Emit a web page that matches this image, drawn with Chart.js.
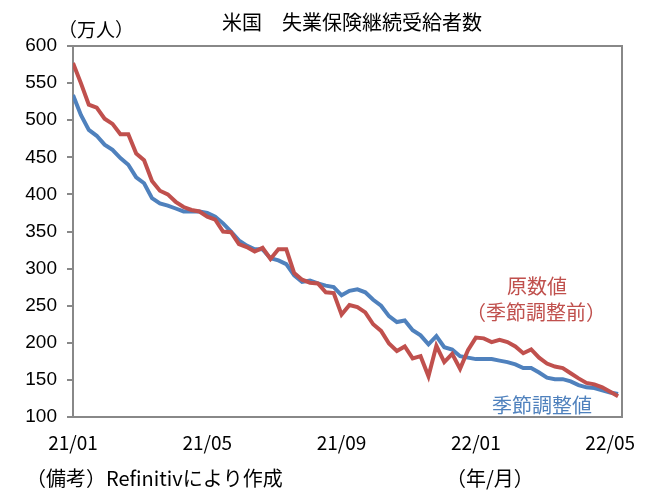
<!DOCTYPE html>
<html>
<head>
  <meta charset="utf-8">
  <script src="https://cdnjs.cloudflare.com/ajax/libs/Chart.js/4.4.1/chart.umd.min.js"></script>
  <style>
    html, body { margin: 0; padding: 0; background: #fff; }
    #wrap { width: 654px; height: 501px; }
  </style>
</head>
<body>
<div id="wrap"><canvas id="claimsChart" width="654" height="501"></canvas></div>

<script>
// weekly continuing claims, 10k persons, from 2021/01 to 2022/05
var rawValues = [577, 550, 521, 517, 502, 495, 481, 481, 455, 446,
                 418, 405, 400, 390, 383, 379, 377, 370, 366, 350,
                 349, 333, 329, 323, 328, 313, 326, 326, 294, 285,
                 281, 280, 268, 267, 238, 251, 248, 241, 225, 216,
                 199, 189, 195, 179, 182, 155, 196, 174, 185, 165,
                 190, 207, 206, 201, 204, 201, 195, 186, 191, 180,
                 172, 168, 166, 159, 152, 146, 144, 140, 134, 128];
var adjValues = [534, 507, 487, 479, 467, 460, 449, 440, 423, 415,
                 395, 388, 385, 381, 377, 377, 377, 375, 370, 361,
                 350, 338, 331, 326, 326, 314, 311, 306, 291, 282,
                 284, 280, 277, 275, 264, 270, 272, 268, 258, 250,
                 236, 228, 230, 217, 210, 198, 209, 194, 191, 182,
                 180, 178, 178, 178, 176, 174, 171, 166, 166, 160,
                 153, 151, 151, 148, 143, 140, 139, 136, 133, 131];
var xTickLabels = ["21/01", "21/05", "21/09", "22/01", "22/05"];
var xTickWeeks = [0, 17, 34, 51, 68];
var yTicks = [100, 150, 200, 250, 300, 350, 400, 450, 500, 550, 600];

var RED = "#C0504D";
var BLUE = "#4F81BD";
var AXIS = "#888888";
var JP = "'Noto Sans CJK JP', 'Noto Sans', sans-serif";

function toPoints(arr) {
  return arr.map(function(v, i) { return { x: i, y: v }; });
}

// frame + text that Chart.js has no slot for
var extras = {
  id: "extras",
  beforeDatasetsDraw: function(chart) {
    var a = chart.chartArea, c = chart.ctx;
    c.save();
    c.strokeStyle = AXIS;
    c.lineWidth = 2;
    c.strokeRect(a.left, a.top, a.right - a.left, a.bottom - a.top);
    c.restore();
  },
  afterDraw: function(chart) {
    var c = chart.ctx;
    c.save();
    c.textBaseline = "middle";
    c.textAlign = "center";
    c.fillStyle = "#000";
    c.font = "20px " + JP;
    c.fillText("米国　失業保険継続受給者数", 352, 22);
    c.textAlign = "left";
    c.font = "19px " + JP;
    c.fillText("（万人）", 58, 30);
    c.font = "20px " + JP;
    c.fillText("（備考）Refinitivにより作成", 26, 478);
    c.fillText("（年/月）", 446, 478);
    c.textAlign = "center";
    c.fillStyle = RED;
    c.font = "20px " + JP;
    c.fillText("原数値", 537, 286);
    c.fillText("（季節調整前）", 536, 312);
    c.fillStyle = BLUE;
    c.fillText("季節調整値", 542, 405);
    c.restore();
  }
};

var ctx = document.getElementById("claimsChart").getContext("2d");
var claimsChart = new Chart(ctx, {
  type: "line",
  data: {
    datasets: [{
      label: "原数値",
      data: toPoints(rawValues),
      borderColor: RED,
      borderWidth: 4,
      pointRadius: 0,
      tension: 0,
      order: 0
    }, {
      label: "季節調整値",
      data: toPoints(adjValues),
      borderColor: BLUE,
      borderWidth: 4,
      pointRadius: 0,
      tension: 0,
      order: 1
    }]
  },
  options: {
    responsive: false,
    animation: false,
    layout: { padding: { top: 46, right: 32, left: 0, bottom: 0 } },
    plugins: {
      legend: { display: false },
      tooltip: { enabled: false },
      title: { display: false }
    },
    scales: {
      x: {
        type: "linear",
        min: 0,
        max: 69.5,
        afterBuildTicks: function(scale) {
          scale.ticks = xTickWeeks.map(function(w) { return { value: w }; });
        },
        afterFit: function(scale) { scale.height = 84; },
        border: { display: false },
        grid: { display: false, drawTicks: false },
        ticks: {
          autoSkip: false,
          maxRotation: 0,
          padding: 14,
          color: "#000",
          font: { family: JP, size: 19 },
          callback: function(v) {
            var k = xTickWeeks.indexOf(v);
            return k >= 0 ? xTickLabels[k] : "";
          }
        }
      },
      y: {
        min: 100,
        max: 600,
        afterBuildTicks: function(scale) {
          scale.ticks = yTicks.map(function(t) { return { value: t }; });
        },
        afterFit: function(scale) { scale.width = 73; },
        border: { display: false },
        grid: {
          drawOnChartArea: false,
          drawTicks: true,
          tickLength: 6,
          color: AXIS,
          lineWidth: 2
        },
        ticks: {
          padding: 10,
          color: "#000",
          font: { family: "'Liberation Sans', Arial, sans-serif", size: 19 }
        }
      }
    }
  },
  plugins: [extras]
});
</script>

</body>
</html>
